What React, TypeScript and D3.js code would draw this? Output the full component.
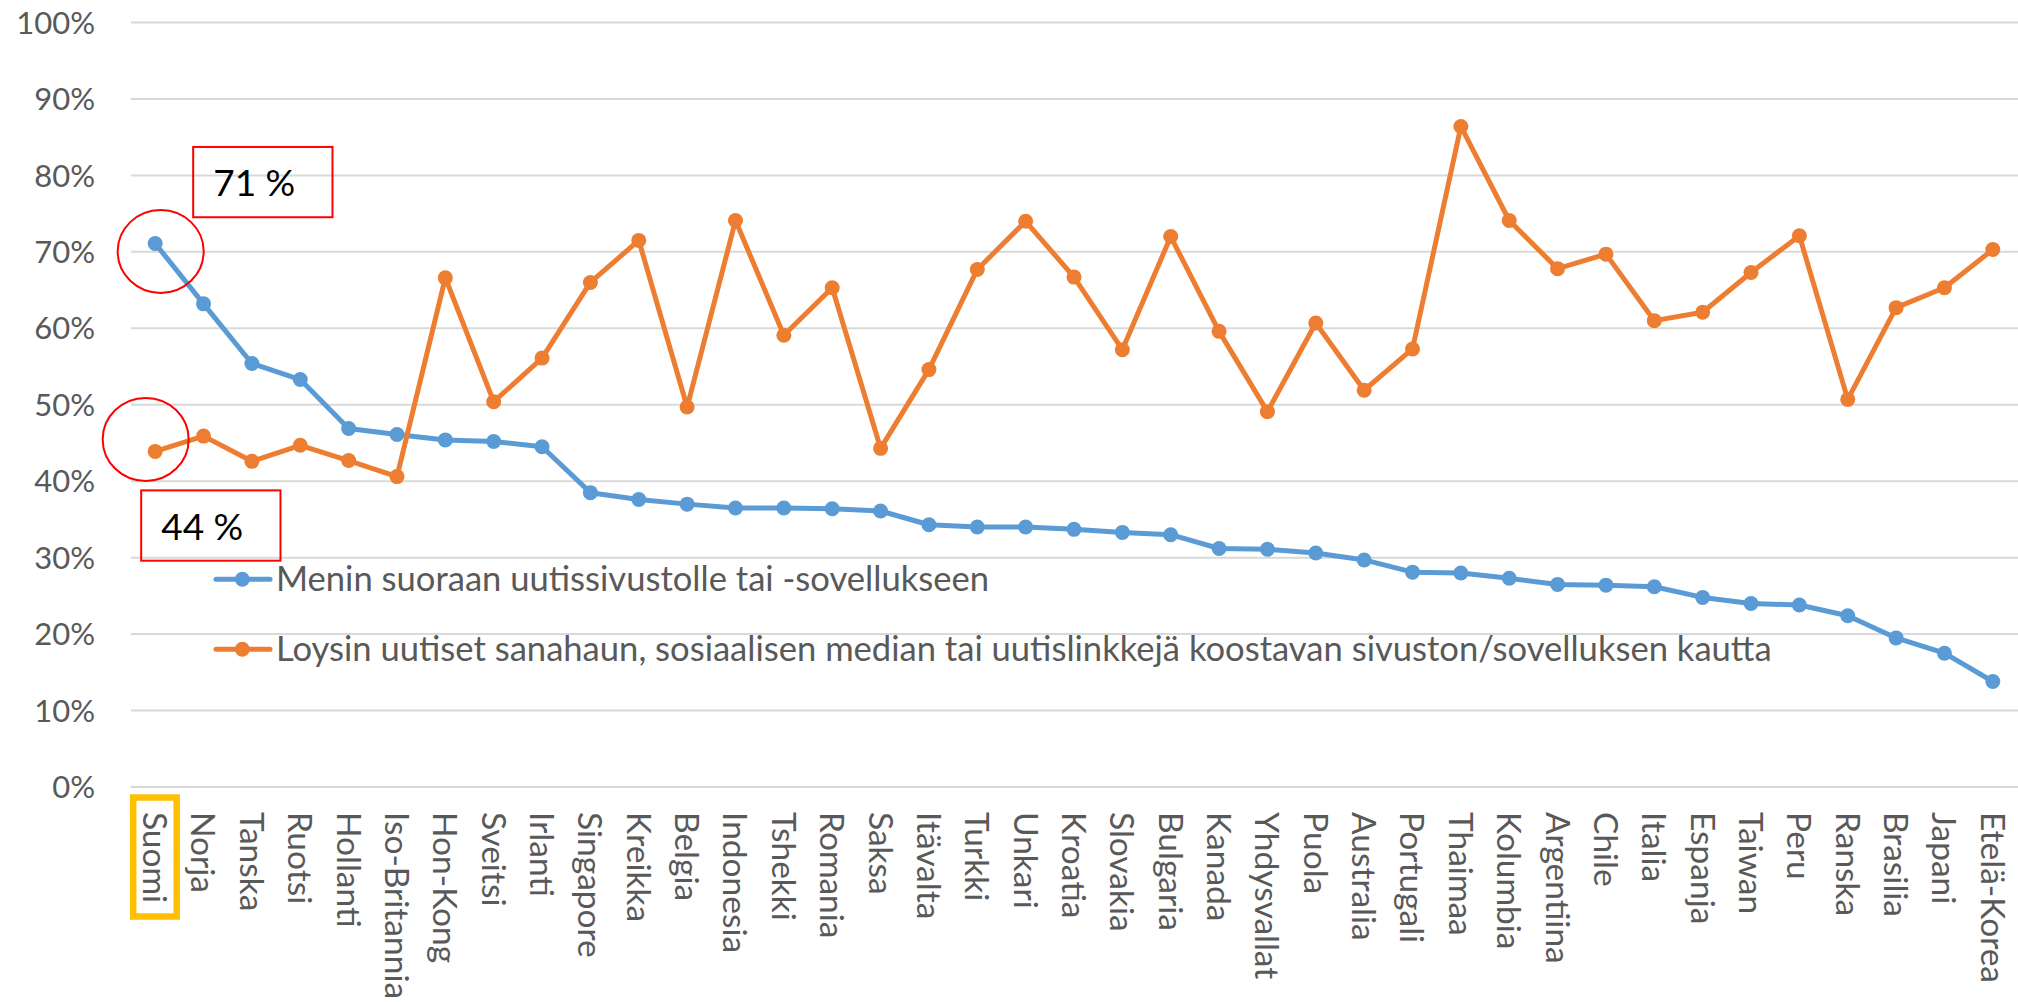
import React, { useEffect, useRef } from 'react';
import * as d3 from 'd3';

const countries = [
  'Suomi', 'Norja', 'Tanska', 'Ruotsi', 'Hollanti', 'Iso-Britannia', 'Hon-Kong', 'Sveitsi',
  'Irlanti', 'Singapore', 'Kreikka', 'Belgia', 'Indonesia', 'Tshekki', 'Romania', 'Saksa',
  'Itävalta', 'Turkki', 'Unkari', 'Kroatia', 'Slovakia', 'Bulgaria', 'Kanada', 'Yhdysvallat',
  'Puola', 'Australia', 'Portugali', 'Thaimaa', 'Kolumbia', 'Argentiina', 'Chile', 'Italia',
  'Espanja', 'Taiwan', 'Peru', 'Ranska', 'Brasilia', 'Japani', 'Etelä-Korea'
];

// Menin suoraan uutissivustolle tai -sovellukseen (%)
const directVisits = [
  71.1, 63.2, 55.4, 53.3, 46.9, 46.1, 45.4, 45.2, 44.5, 38.5,
  37.6, 37.0, 36.5, 36.5, 36.4, 36.1, 34.3, 34.0, 34.0, 33.7,
  33.3, 33.0, 31.2, 31.1, 30.6, 29.7, 28.1, 28.0, 27.3, 26.5,
  26.4, 26.2, 24.8, 24.0, 23.8, 22.4, 19.5, 17.5, 13.8
];

// Loysin uutiset sanahaun, somen tai aggregaattorin kautta (%)
const viaSideDoor = [
  43.9, 45.9, 42.6, 44.7, 42.7, 40.6, 66.6, 50.4, 56.1, 66.0,
  71.5, 49.7, 74.1, 59.1, 65.3, 44.3, 54.6, 67.7, 74.0, 66.7,
  57.2, 72.0, 59.6, 49.1, 60.7, 51.9, 57.3, 86.4, 74.1, 67.8,
  69.7, 61.0, 62.1, 67.3, 72.1, 50.7, 62.7, 65.3, 70.3
];

const yTicks = [0, 10, 20, 30, 40, 50, 60, 70, 80, 90, 100];

const seriesNames = [
  'Menin suoraan uutissivustolle tai -sovellukseen',
  'Loysin uutiset sanahaun, sosiaalisen median tai uutislinkkejä koostavan sivuston/sovelluksen kautta'
];
const seriesColors = ['#5B9BD5', '#ED7D31'];

// Suomi-korostukset
const callouts = ['71 %', '44 %'];

const App = () => {
  const svgRef = useRef<SVGSVGElement>(null);

  useEffect(() => {
    if (!svgRef.current) return;
    const width = 2018;
    const height = 1002;
    const plot = { left: 131, right: 2017, top: 22.5, bottom: 787 };

    const svg = d3.select(svgRef.current)
      .attr('width', width)
      .attr('height', height);
    svg.selectAll('*').remove();

    svg.append('rect').attr('width', width).attr('height', height).attr('fill', '#fff');

    const x = d3.scaleBand().domain(countries).range([plot.left, plot.right]).padding(0);
    const y = d3.scaleLinear().domain([0, 100]).range([plot.bottom, plot.top]);
    const cx = (c: string) => (x(c) ?? 0) + x.bandwidth() / 2;

    // ruudukko
    svg.append('g')
      .selectAll('line')
      .data(yTicks)
      .join('line')
      .attr('x1', plot.left)
      .attr('x2', width)
      .attr('y1', d => y(d))
      .attr('y2', d => y(d))
      .attr('stroke', '#d9d9d9')
      .attr('stroke-width', 2);

    // y-akselin tekstit
    svg.append('g')
      .selectAll('text')
      .data(yTicks)
      .join('text')
      .attr('x', 95)
      .attr('y', d => y(d))
      .attr('dy', '0.36em')
      .attr('text-anchor', 'end')
      .style('font-family', 'Lato, sans-serif')
      .style('font-size', '31px')
      .style('fill', '#595959')
      .text(d => `${d}%`);

    // x-akselin maat
    svg.append('g')
      .selectAll('text')
      .data(countries)
      .join('text')
      .attr('transform', d => `translate(${cx(d)},812) rotate(90)`)
      .attr('dy', '0.36em')
      .style('font-family', 'Lato, sans-serif')
      .style('font-size', '33.5px')
      .style('fill', '#595959')
      .text(d => d);

    // Suomi keltaisella
    svg.append('rect')
      .attr('x', cx(countries[0]) - 22)
      .attr('y', 797.5)
      .attr('width', 43.5)
      .attr('height', 119)
      .attr('fill', 'none')
      .attr('stroke', '#FFC000')
      .attr('stroke-width', 6.5);

    const allSeries = [directVisits, viaSideDoor];

    allSeries.forEach((vals, i) => {
      const line = d3.line<number>()
        .x((_, j) => cx(countries[j]))
        .y(v => y(v));

      svg.append('path')
        .datum(vals)
        .attr('d', line)
        .attr('fill', 'none')
        .attr('stroke', seriesColors[i])
        .attr('stroke-width', 5)
        .attr('stroke-linejoin', 'round');

      svg.append('g')
        .selectAll('circle')
        .data(vals)
        .join('circle')
        .attr('cx', (_, j) => cx(countries[j]))
        .attr('cy', v => y(v))
        .attr('r', 7.5)
        .attr('fill', seriesColors[i]);
    });

    // selite
    const legend = svg.append('g');
    [579.3, 649.3].forEach((ly, i) => {
      legend.append('line')
        .attr('x1', 216).attr('x2', 270)
        .attr('y1', ly).attr('y2', ly)
        .attr('stroke', seriesColors[i])
        .attr('stroke-width', 5)
        .attr('stroke-linecap', 'round');
      legend.append('circle')
        .attr('cx', 242.3).attr('cy', ly)
        .attr('r', 7.5)
        .attr('fill', seriesColors[i]);
      legend.append('text')
        .attr('x', 276)
        .attr('y', ly)
        .attr('dy', '0.33em')
        .style('font-family', 'Lato, sans-serif')
        .style('font-size', '34.6px')
        .style('fill', '#595959')
        .text(seriesNames[i]);
    });

    // punaiset korostukset Suomen pisteille
    const sx = cx(countries[0]);
    const notes = [
      { v: directVisits[0], ex: 5.5, ey: 8, box: [38, -96.5, 139.3, 70.3], tx: 58, ty: -47.5, label: callouts[0] },
      { v: viaSideDoor[0], ex: -9.5, ey: -12, box: [-14, 39, 139.3, 70.3], tx: 6, ty: 88.3, label: callouts[1] }
    ];
    notes.forEach(n => {
      const py = y(n.v);
      svg.append('ellipse')
        .attr('cx', sx + n.ex)
        .attr('cy', py + n.ey)
        .attr('rx', 43)
        .attr('ry', 41.5)
        .attr('fill', 'none')
        .attr('stroke', '#FF0000')
        .attr('stroke-width', 2);
      svg.append('rect')
        .attr('x', sx + n.box[0])
        .attr('y', py + n.box[1])
        .attr('width', n.box[2])
        .attr('height', n.box[3])
        .attr('fill', 'none')
        .attr('stroke', '#FF0000')
        .attr('stroke-width', 2);
      svg.append('text')
        .attr('x', sx + n.tx)
        .attr('y', py + n.ty)
        .style('font-family', 'Lato, sans-serif')
        .style('font-size', '37px')
        .style('fill', '#000')
        .text(n.label);
    });
  }, []);

  return (
    <svg ref={svgRef} style={{ position: 'absolute', left: 0, top: 0, display: 'block' }} />
  );
};

export default App;
